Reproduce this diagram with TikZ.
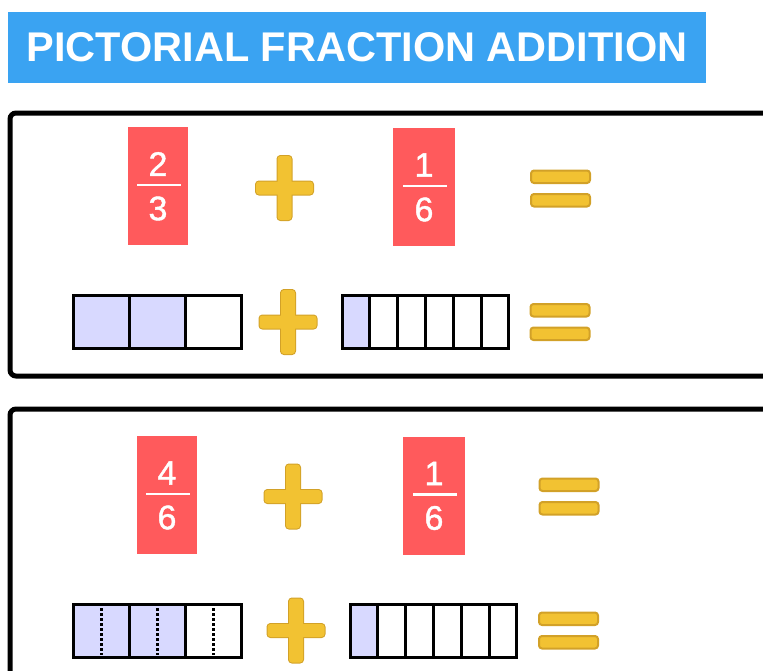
\documentclass[tikz,border=0pt]{standalone}
\usepackage{fontspec}
\setmainfont{Liberation Sans}
\newfontfamily\digitfont[FakeBold=1.2]{Liberation Sans}
\definecolor{titleblue}{HTML}{3AA3F2}
\definecolor{fracred}{HTML}{FF5A5C}
\definecolor{gold}{HTML}{F2C232}
\definecolor{golddark}{HTML}{D2A128}
\definecolor{lav}{HTML}{D8D9FF}
\tikzset{
  panel/.style={draw=black, line width=5pt, rounded corners=6pt},
  fracbox/.style={fill=fracred, draw=none, minimum width=60pt, minimum height=118pt, inner sep=0pt},
  digit/.style={text=white, inner sep=0pt, font=\digitfont\fontsize{34}{34}\selectfont},
  fracline/.style={draw=white, line width=2.2pt},
  cellline/.style={draw=black, line width=3pt},
  dotline/.style={draw=black, line width=3pt, dash pattern=on 2.5pt off 2.5pt},
  pics/plusgold/.style={code={
    \draw[golddark, line width=2pt, rounded corners=3pt] (-28.5,-6.5) rectangle (28.5,6.5);
    \draw[golddark, line width=2pt, rounded corners=3pt] (-7,-32) rectangle (7,32);
    \fill[gold, rounded corners=3pt] (-28.5,-6.5) rectangle (28.5,6.5);
    \fill[gold, rounded corners=3pt] (-7,-32) rectangle (7,32);
  }},
  pics/eqgold/.style={code={
    \draw[golddark, line width=2pt, fill=gold, rounded corners=3pt] (-29.5,-18) rectangle (29.5,-5.5);
    \draw[golddark, line width=2pt, fill=gold, rounded corners=3pt] (-29.5,5.5) rectangle (29.5,18);
  }}
}
\begin{document}
\begin{tikzpicture}[x=1pt, y=-1pt]
\useasboundingbox (0,0) rectangle (763,670);
\clip (0,0) rectangle (763,670);
% title
\node[fill=titleblue, minimum width=698pt, minimum height=71pt, inner sep=0pt,
      text=white, font=\bfseries\fontsize{41.5}{41.5}\selectfont] (title) at (357,47.5) {PICTORIAL FRACTION ADDITION};
% panels
\draw[panel] (10,113) rectangle (790,376);
\draw[panel] (10,409) rectangle (790,700);

% ---------- panel 1 ----------
\node[fracbox] (f1a) at (158,186) {};
\node[digit] (f1an) at (158,164) {2};
\draw[fracline] (137,185) -- (181,185);
\node[digit] (f1ad) at (158,208.5) {3};

\node[fracbox, minimum width=62pt] (f1b) at (424,187) {};
\node[digit] (f1bn) at (424,165) {1};
\draw[fracline] (403,186) -- (447,186);
\node[digit] (f1bd) at (424,209.5) {6};

\pic at (284.5,188) {plusgold};
\pic at (560.5,188.5) {eqgold};

% bars row 1
\fill[lav] (73,295) rectangle (186,348);
\foreach \i in {0,1,2} \draw[cellline] ({73+56*\i},295) rectangle ({73+56*(\i+1)},348);
\fill[lav] (342,295) rectangle (370,348);
\foreach \i in {0,...,5} \draw[cellline] ({342+27.83*\i},295) rectangle ({342+27.83*(\i+1)},348);
\pic at (288,322) {plusgold};
\pic at (560,322) {eqgold};

% ---------- panel 2 ----------
\node[fracbox] (f2a) at (167,495) {};
\node[digit] (f2an) at (167,473) {4};
\draw[fracline] (146,494) -- (190,494);
\node[digit] (f2ad) at (167,517.5) {6};

\node[fracbox, minimum width=62pt] (f2b) at (434,495.5) {};
\node[digit] (f2bn) at (434,473.5) {1};
\draw[fracline] (413,494.5) -- (457,494.5);
\node[digit] (f2bd) at (434,518) {6};

\pic at (293,496.5) {plusgold};
\pic at (569,496.5) {eqgold};

% bars row 2
\fill[lav] (73,604) rectangle (186,657);
\foreach \i in {0,1,2} \draw[dotline] ({73+56*\i+28},608) -- ({73+56*\i+28},655);
\foreach \i in {0,1,2} \draw[cellline] ({73+56*\i},604) rectangle ({73+56*(\i+1)},657);
\fill[lav] (350,604) rectangle (378,657);
\foreach \i in {0,...,5} \draw[cellline] ({350+27.83*\i},604) rectangle ({350+27.83*(\i+1)},657);
\pic at (296,630.5) {plusgold};
\pic at (568.5,630.5) {eqgold};
\end{tikzpicture}
\end{document}
